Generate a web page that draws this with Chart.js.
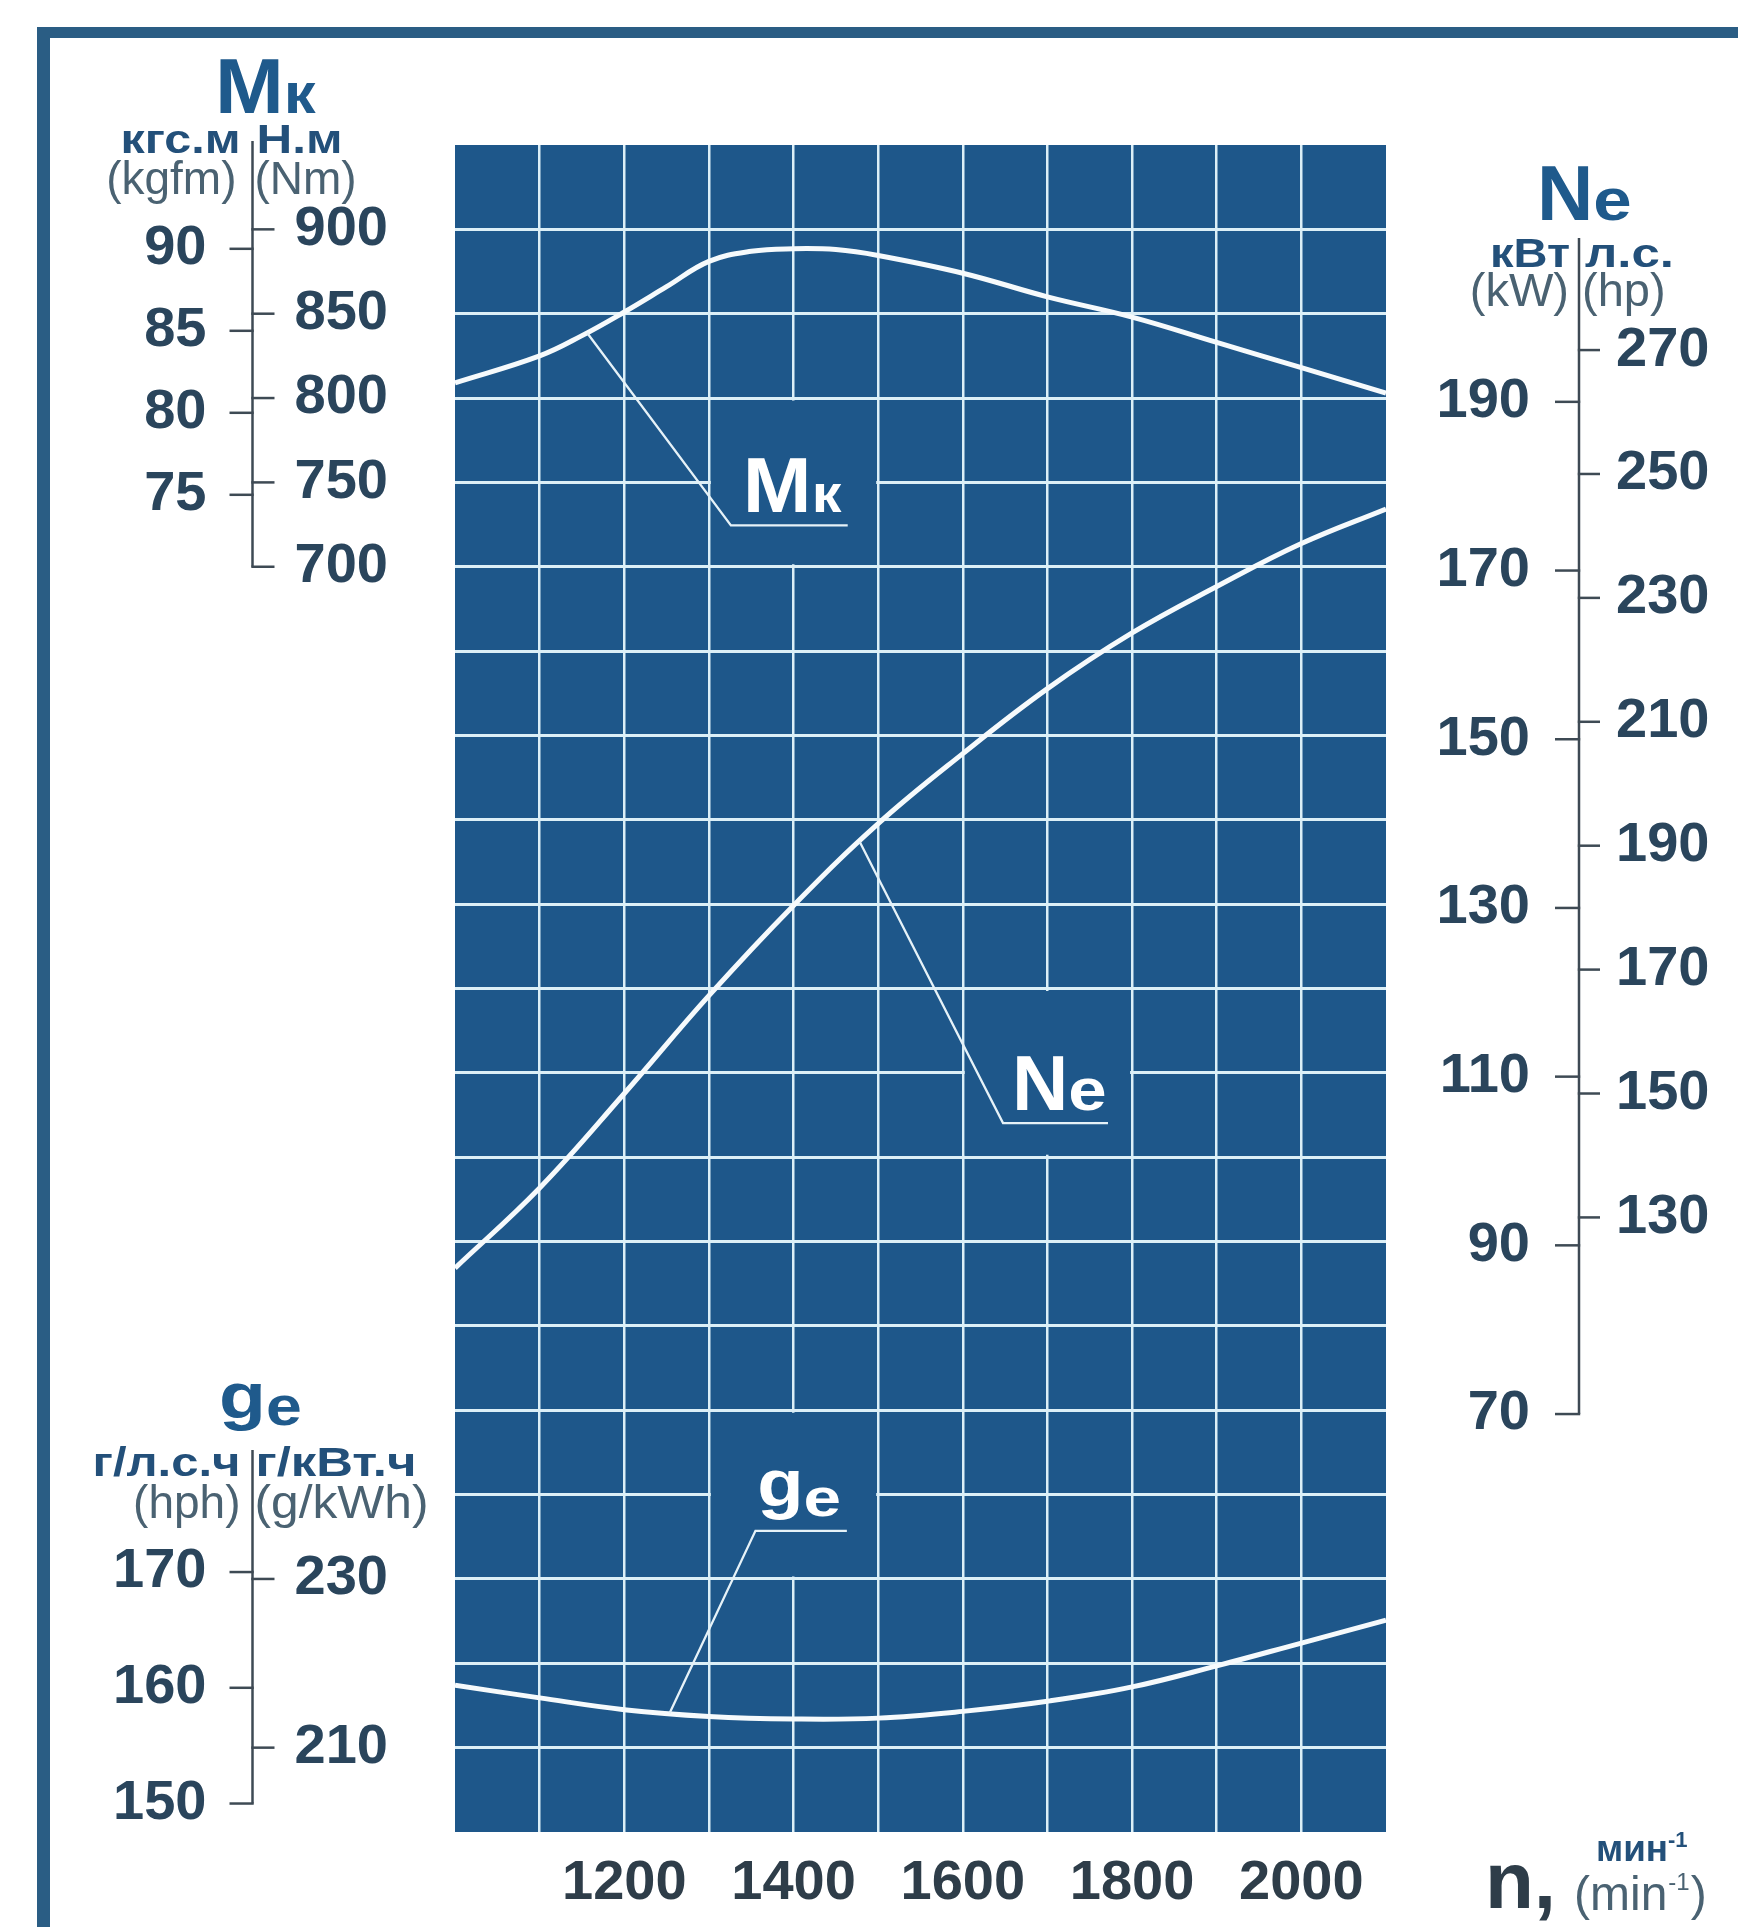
<!DOCTYPE html>
<html>
<head>
<meta charset="utf-8">
<script src="https://cdn.jsdelivr.net/npm/chart.js@4.4.1/dist/chart.umd.min.js"></script>
<style>
html,body{margin:0;padding:0;background:#ffffff;}
canvas{display:block;}
</style>
</head>
<body>
<canvas id="c" width="1738" height="1927"></canvas>
<script>
// ---------------- data ----------------
const torqueRpm = [1000,1100,1150,1200,1250,1300,1350,1400,1450,1500,1600,1700,1800,1900,2000,2100];
const torqueNm  = [809,825,837,851,866,881,887,888.5,888,884.5,874,860,848,833,818,803];

const powerRpm = [1000,1100,1200,1300,1400,1500,1600,1700,1800,1900,2000,2100];
const powerKw  = [87.3,96.8,108.0,119.6,130.3,140.0,148.3,156.0,162.6,168.1,173.2,177.3];

const fuelRpm  = [1000,1100,1200,1300,1400,1500,1600,1700,1800,1900,2000,2100];
const fuelGkwh = [217.4,215.9,214.5,213.7,213.4,213.5,214.3,215.5,217.2,219.7,222.4,225.1];

// tick labels
const rpmTickLabels = [1200,1400,1600,1800,2000];
const nmTicks   = [700,750,800,850,900];
const kgfmTicks = [75,80,85,90];
const kwTicks   = [70,90,110,130,150,170,190];
const hpTicks   = [130,150,170,190,210,230,250,270];
const gkwhTicks = [210,230];
const ghphTicks = [150,160,170];

// axis ranges (calibrated against the grid of the reference)
const rpmRange  = [1000, 2100];
const nmRange   = [-50, 950];
const kgfmRange = [-6.54, 96.33];
const kwRange   = [20.45, 220.45];
const hpRange   = [30.8, 303.1];
const gkwhRange = [200, 400];
const ghphRange = [147.54, 293.3];

// ---------------- styling ----------------
const FONT = '"Liberation Sans", Arial, Helvetica, sans-serif';
const C = {
  plot: '#1e578a', grid: '#dceff7', curve: '#f6fafc', leader: '#e6f2f8',
  frame: '#2a5d84', axis: '#3e4a54', tick: '#2a455c', title: '#1f5a8c',
  unit: '#23507a', unitParen: '#4a6272', xtick: '#2e3d49'
};

function interp(xs, ys, x) {
  for (let i = 0; i < xs.length - 1; i++) {
    if (x >= xs[i] && x <= xs[i + 1]) {
      const t = (x - xs[i]) / (xs[i + 1] - xs[i]);
      return ys[i] + t * (ys[i + 1] - ys[i]);
    }
  }
  return ys[ys.length - 1];
}

function txt(ctx, s, x, y, o) {
  ctx.save();
  ctx.font = (o.weight || 'bold') + ' ' + o.size + 'px ' + FONT;
  ctx.fillStyle = o.color;
  ctx.textBaseline = o.baseline || 'alphabetic';
  ctx.textAlign = 'left';
  const w = ctx.measureText(s).width;
  const sx = o.width ? o.width / w : (o.sx || 1);
  const align = o.align || 'left';
  const x0 = align === 'left' ? x : (align === 'right' ? x - w * sx : x - w * sx / 2);
  ctx.translate(x0, y);
  ctx.scale(sx, 1);
  ctx.fillText(s, 0, 0);
  ctx.restore();
  return x0 + w * sx;
}

function parts(ctx, list, x, y, color) {
  let cx = x;
  for (const p of list) {
    cx = txt(ctx, p.s, cx, y + (p.dy || 0), {size: p.size, sx: p.sx, color: color, weight: p.weight});
  }
  return cx;
}

// callouts: anchor on curve (rpm), elbow and underline in the series axis units
const callouts = [
  {axis: 'nm', xs: torqueRpm, ys: torqueNm, anchorRpm: 1156,
   elbow: [1326, 724.5], lineEnd: 1464, textAt: [1340, 732.5],
   parts: [{s: 'М', size: 78, sx: 1.06}, {s: 'к', size: 54, sx: 1.1}],
   box: [1300, 1500, 700, 800]},
  {axis: 'kw', xs: powerRpm, ys: powerKw, anchorRpm: 1478,
   elbow: [1647.5, 104.5], lineEnd: 1771.5, textAt: [1658, 106.05],
   parts: [{s: 'N', size: 78}, {s: 'e', size: 60, sx: 1.15}],
   box: [1600, 1800, 350, 450]},
  {axis: 'gkwh', xs: fuelRpm, ys: fuelGkwh, anchorRpm: 1253.5,
   elbow: [1355, 235.7], lineEnd: 1463, textAt: [1357, 238.65],
   parts: [{s: 'g', size: 66, sx: 1.15}, {s: 'e', size: 54, sx: 1.25, dy: 10}],
   box: [1300, 1500, 100, 200]}
];

function floatingAxis(ctx, a) {
  ctx.save();
  ctx.strokeStyle = C.axis;
  ctx.lineWidth = 2.5;
  ctx.lineCap = 'butt';
  ctx.beginPath();
  ctx.moveTo(a.x, a.top);
  ctx.lineTo(a.x, a.bottom);
  ctx.stroke();
  if (a.left) {
    for (const v of a.left.ticks) {
      const y = a.left.scale.getPixelForValue(v);
      ctx.beginPath(); ctx.moveTo(a.x - a.left.len, y); ctx.lineTo(a.x + 1.2, y); ctx.stroke();
      txt(ctx, String(v), a.x - a.left.gap, y, {size: 56, color: C.tick, align: 'right', baseline: 'middle'});
    }
  }
  if (a.right) {
    for (const v of a.right.ticks) {
      const y = a.right.scale.getPixelForValue(v);
      ctx.beginPath(); ctx.moveTo(a.x - 1.2, y); ctx.lineTo(a.x + a.right.len, y); ctx.stroke();
      txt(ctx, String(v), a.x + a.right.gap, y, {size: 56, color: C.tick, align: 'left', baseline: 'middle'});
    }
  }
  ctx.restore();
}

const decor = {
  id: 'decor',
  beforeDraw(chart) {
    const {ctx, chartArea: a} = chart;
    ctx.save();
    ctx.fillStyle = '#ffffff';
    ctx.fillRect(0, 0, chart.width, chart.height);
    ctx.fillStyle = C.frame;
    ctx.fillRect(37, 27, chart.width - 37, 11);
    ctx.fillRect(37, 27, 13, chart.height - 27);
    ctx.fillStyle = C.plot;
    ctx.fillRect(a.left, a.top, a.right - a.left, a.bottom - a.top);
    ctx.restore();
  },
  beforeDatasetsDraw(chart) {
    const {ctx, scales} = chart;
    ctx.save();
    ctx.fillStyle = C.plot;
    for (const c of callouts) {
      const [x0, x1, y0, y1] = c.box;
      const px0 = scales.x.getPixelForValue(x0) + 2;
      const px1 = scales.x.getPixelForValue(x1) - 2;
      const py0 = scales.nm.getPixelForValue(y1) + 2.5;
      const py1 = scales.nm.getPixelForValue(y0) - 2.5;
      ctx.fillRect(px0, py0, px1 - px0, py1 - py0);
    }
    ctx.restore();
  },
  afterDatasetsDraw(chart) {
    const {ctx, scales} = chart;
    ctx.save();
    for (const c of callouts) {
      const ys = scales[c.axis];
      const ax = scales.x.getPixelForValue(c.anchorRpm);
      const ay = ys.getPixelForValue(interp(c.xs, c.ys, c.anchorRpm));
      const ex = scales.x.getPixelForValue(c.elbow[0]);
      const ey = ys.getPixelForValue(c.elbow[1]);
      const lx = scales.x.getPixelForValue(c.lineEnd);
      ctx.strokeStyle = C.leader;
      ctx.lineWidth = 2.3;
      ctx.lineJoin = 'miter';
      ctx.beginPath();
      ctx.moveTo(ax, ay);
      ctx.lineTo(ex, ey);
      ctx.lineTo(lx, ey);
      ctx.stroke();
      parts(ctx, c.parts, scales.x.getPixelForValue(c.textAt[0]), ys.getPixelForValue(c.textAt[1]), '#ffffff');
    }
    ctx.restore();
  },
  afterDraw(chart) {
    const {ctx, chartArea: a, scales} = chart;
    const leftX = a.left - 202.5;
    const rightX = a.right + 193;
    floatingAxis(ctx, {x: leftX, top: 141, bottom: scales.nm.getPixelForValue(nmTicks[0]),
      left: {scale: scales.kgfm, ticks: kgfmTicks, len: 23, gap: 46},
      right: {scale: scales.nm, ticks: nmTicks, len: 22, gap: 42}});
    floatingAxis(ctx, {x: rightX, top: 238, bottom: scales.kw.getPixelForValue(kwTicks[0]),
      left: {scale: scales.kw, ticks: kwTicks, len: 24, gap: 49},
      right: {scale: scales.hp, ticks: hpTicks, len: 21, gap: 37}});
    floatingAxis(ctx, {x: leftX, top: 1450, bottom: scales.ghph.getPixelForValue(ghphTicks[0]),
      left: {scale: scales.ghph, ticks: ghphTicks, len: 23, gap: 46},
      right: {scale: scales.gkwh, ticks: gkwhTicks, len: 22, gap: 42}});

    parts(ctx, [{s: 'М', size: 78, sx: 1.06}, {s: 'к', size: 58, sx: 1.1}], 215, 113, C.title);
    txt(ctx, 'кгс.м', leftX - 12, 153, {size: 40, color: C.unit, align: 'right', width: 120});
    txt(ctx, 'Н.м', leftX + 4, 153, {size: 40, color: C.unit, width: 86});
    txt(ctx, '(kgfm)', leftX - 16, 194, {size: 46, weight: 'normal', color: C.unitParen, align: 'right'});
    txt(ctx, '(Nm)', leftX + 2, 194, {size: 46, weight: 'normal', color: C.unitParen});

    parts(ctx, [{s: 'N', size: 78}, {s: 'e', size: 60, sx: 1.15}], rightX - 42, 220, C.title);
    txt(ctx, 'кВт', rightX - 9, 267, {size: 40, color: C.unit, align: 'right', width: 80});
    txt(ctx, 'л.с.', rightX + 6, 267, {size: 40, color: C.unit, width: 89});
    txt(ctx, '(kW)', rightX - 10, 306, {size: 47, weight: 'normal', color: C.unitParen, align: 'right'});
    txt(ctx, '(hp)', rightX + 3, 306, {size: 47, weight: 'normal', color: C.unitParen});

    parts(ctx, [{s: 'g', size: 64, sx: 1.2}, {s: 'e', size: 56, sx: 1.15, dy: 7}], 219, 1418, C.title);
    txt(ctx, 'г/л.с.ч', leftX - 12, 1476, {size: 40, color: C.unit, align: 'right', width: 148});
    txt(ctx, 'г/кВт.ч', leftX + 3, 1476, {size: 40, color: C.unit, width: 161});
    txt(ctx, '(hph)', leftX - 12, 1518, {size: 46, weight: 'normal', color: C.unitParen, align: 'right'});
    txt(ctx, '(g/kWh)', leftX + 2, 1518, {size: 46, weight: 'normal', color: C.unitParen, width: 174});

    txt(ctx, 'n,', 1485, 1908, {size: 80, color: C.xtick});
    let e1 = txt(ctx, 'мин', 1596, 1861, {size: 36, color: C.unit, width: 72});
    txt(ctx, '-1', e1, 1847, {size: 22, color: C.unit});
    let e2 = txt(ctx, '(min', 1574, 1910, {size: 48, weight: 'normal', color: C.unitParen});
    e2 = txt(ctx, '-1', e2 + 1, 1890, {size: 24, weight: 'normal', color: C.unitParen});
    txt(ctx, ')', e2 + 1, 1910, {size: 48, weight: 'normal', color: C.unitParen});
  }
};

const lineStyle = {
  borderColor: C.curve, borderWidth: 5, pointRadius: 0, pointHoverRadius: 0,
  fill: false, cubicInterpolationMode: 'default', tension: 0.4, borderCapStyle: 'butt'
};

const edgeColor = (ctx) => {
  const n = ctx.scale.ticks.length;
  return (ctx.index === 0 || ctx.index === n - 1) ? 'rgba(0,0,0,0)' : C.grid;
};

const hidden = (range) => ({type: 'linear', axis: 'y', position: 'left', display: false, min: range[0], max: range[1]});

new Chart(document.getElementById('c'), {
  type: 'line',
  data: {
    datasets: [
      Object.assign({label: 'Мк', yAxisID: 'nm', data: torqueRpm.map((x, i) => ({x: x, y: torqueNm[i]}))}, lineStyle),
      Object.assign({label: 'Ne', yAxisID: 'kw', data: powerRpm.map((x, i) => ({x: x, y: powerKw[i]}))}, lineStyle),
      Object.assign({label: 'ge', yAxisID: 'gkwh', data: fuelRpm.map((x, i) => ({x: x, y: fuelGkwh[i]}))}, lineStyle)
    ]
  },
  options: {
    responsive: false,
    animation: false,
    devicePixelRatio: 1,
    layout: {padding: {left: 455, top: 145, right: 352, bottom: 0}},
    plugins: {legend: {display: false}, tooltip: {enabled: false}},
    events: [],
    scales: {
      x: {
        type: 'linear', axis: 'x', position: 'bottom', min: rpmRange[0], max: rpmRange[1],
        afterFit: (s) => { s.height = 95; },
        border: {display: false},
        grid: {color: edgeColor, lineWidth: 2.5, drawTicks: false},
        ticks: {
          stepSize: 100, autoSkip: false, maxRotation: 0, minRotation: 0, padding: 18,
          color: C.xtick, font: {family: FONT, size: 56, weight: 'bold'},
          callback: (v) => rpmTickLabels.includes(v) ? String(v) : ''
        }
      },
      nm: {
        type: 'linear', axis: 'y', position: 'left', min: nmRange[0], max: nmRange[1],
        afterFit: (s) => { s.width = 0; },
        border: {display: false},
        grid: {color: edgeColor, lineWidth: 3, drawTicks: false},
        ticks: {display: false, stepSize: 50}
      },
      kgfm: hidden(kgfmRange),
      kw: hidden(kwRange),
      hp: hidden(hpRange),
      gkwh: hidden(gkwhRange),
      ghph: hidden(ghphRange)
    }
  },
  plugins: [decor]
});
</script>
</body>
</html>
